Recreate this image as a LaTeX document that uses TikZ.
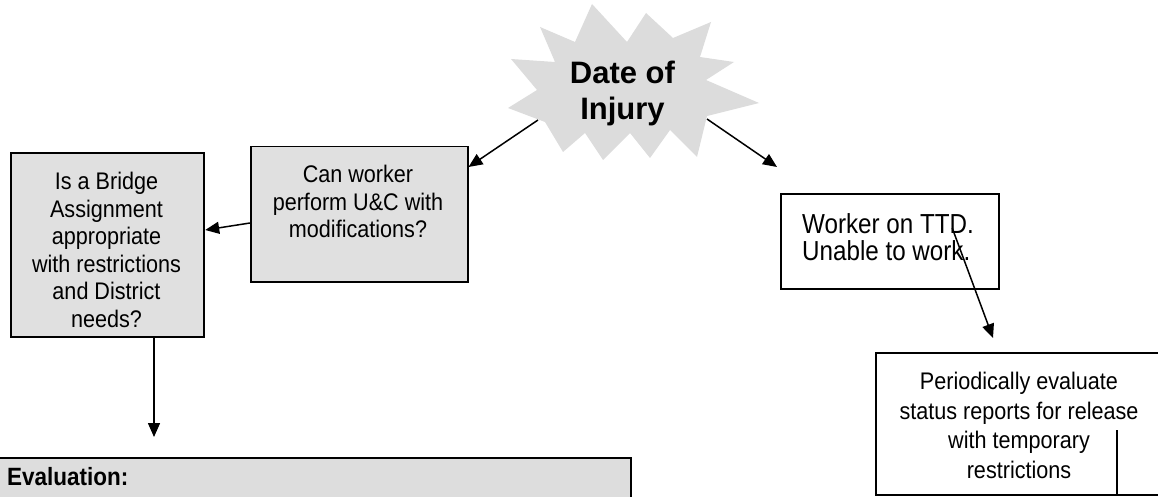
\documentclass[tikz,border=0pt]{standalone}
\usepackage{fontspec}
\setmainfont{Liberation Sans}
\newfontfamily\narrowfont{Liberation Sans}[FakeStretch=0.9]
\usetikzlibrary{arrows.meta}
\definecolor{boxgray}{HTML}{E0E0E0}
\definecolor{stargray}{HTML}{DCDCDC}
\definecolor{evalgray}{HTML}{DDDDDD}

\begin{document}
\begin{tikzpicture}[x=1pt,y=-1pt,
  box/.style={draw=black,line width=2.2pt,inner sep=0pt,anchor=north west,fill=white},
  graybox/.style={box,fill=boxgray},
  txt/.style={inner sep=0pt,align=center,font=\narrowfont\fontsize{24}{27.5}\selectfont},
  arr/.style={line width=1.5pt,-{Triangle[length=14pt,width=12pt]}}]

\useasboundingbox (0,0) rectangle (1158,497);
\clip (0,0) rectangle (1158,497);

% explosion shape behind the start event
\fill[stargray] (592,4) -- (627,42) -- (646,13) -- (673,38) -- (711,22) -- (700,57)
  -- (734,62) -- (706,80) -- (759,103) -- (707,116) -- (697,157) -- (670,130)
  -- (650,158) -- (630,133) -- (603,160) -- (585,133) -- (563,152) -- (545,122)
  -- (508,108) -- (537,90) -- (511,59) -- (555,62) -- (540,27) -- (575,42) -- cycle;
\node[inner sep=0pt,align=center,font=\bfseries\fontsize{31}{36}\selectfont,anchor=north]
  (doi) at (622.5,61) {Date of\\Injury};

% boxes
\node[graybox,minimum width=193pt,minimum height=184pt] (lb) at (10,152) {};
\node[graybox,line width=1.5pt,minimum width=217pt,minimum height=135pt] (mb) at (250,146) {};
\node[box,minimum width=218pt,minimum height=95pt] (wb) at (780,193) {};
\node[box,line width=2pt,minimum width=290pt,minimum height=142pt] (pb) at (875,352) {};
\node[box,fill=evalgray,minimum width=638pt,minimum height=100pt] (eb) at (-8,457) {};

% box texts
\node[txt,anchor=north] (lbt) at (106.5,172)
  {Is a Bridge\\Assignment\\appropriate\\with restrictions\\and District\\needs?};
\node[txt,anchor=north] (mbt) at (358,165) {Can worker\\perform U\&C with\\modifications?};
\node[inner sep=0pt,align=left,anchor=north west,font=\narrowfont\fontsize{27.5}{27}\selectfont]
  (wbt) at (802,213) {\addfontfeature{FakeStretch=0.88}Worker on TTD.\\\addfontfeature{FakeStretch=0.88}Unable to work.};
\node[txt,anchor=north,font=\narrowfont\fontsize{24}{29.5}\selectfont] (pbt) at (1019,372)
  {Periodically evaluate\\status reports for release\\with temporary\\restrictions};
\node[inner sep=0pt,anchor=north west,font=\narrowfont\bfseries\fontsize{25}{28}\selectfont]
  (ebt) at (7,467) {Evaluation:};

% connectors
\coordinate (s1) at (538,120);
\coordinate (s2) at (707,119);
\coordinate (evtop) at (154,437);
\draw[arr] (s1) -- ([yshift=-21pt]mb.north east);
\draw[arr] (s2) -- ([xshift=-3pt,yshift=26pt]wb.north west);
\draw[arr] ([yshift=-77pt]mb.north west) -- ([yshift=-78pt]lb.north east);
\draw[arr] (evtop |- lb.south) -- (evtop);
\draw[arr] ([xshift=-48pt,yshift=-35pt]wb.north east) -- ([xshift=118pt,yshift=14pt]pb.north west);
\coordinate (stub) at (1117,430);
\draw[line width=1.5pt] (stub) -- (stub |- pb.south);
\end{tikzpicture}
\end{document}
